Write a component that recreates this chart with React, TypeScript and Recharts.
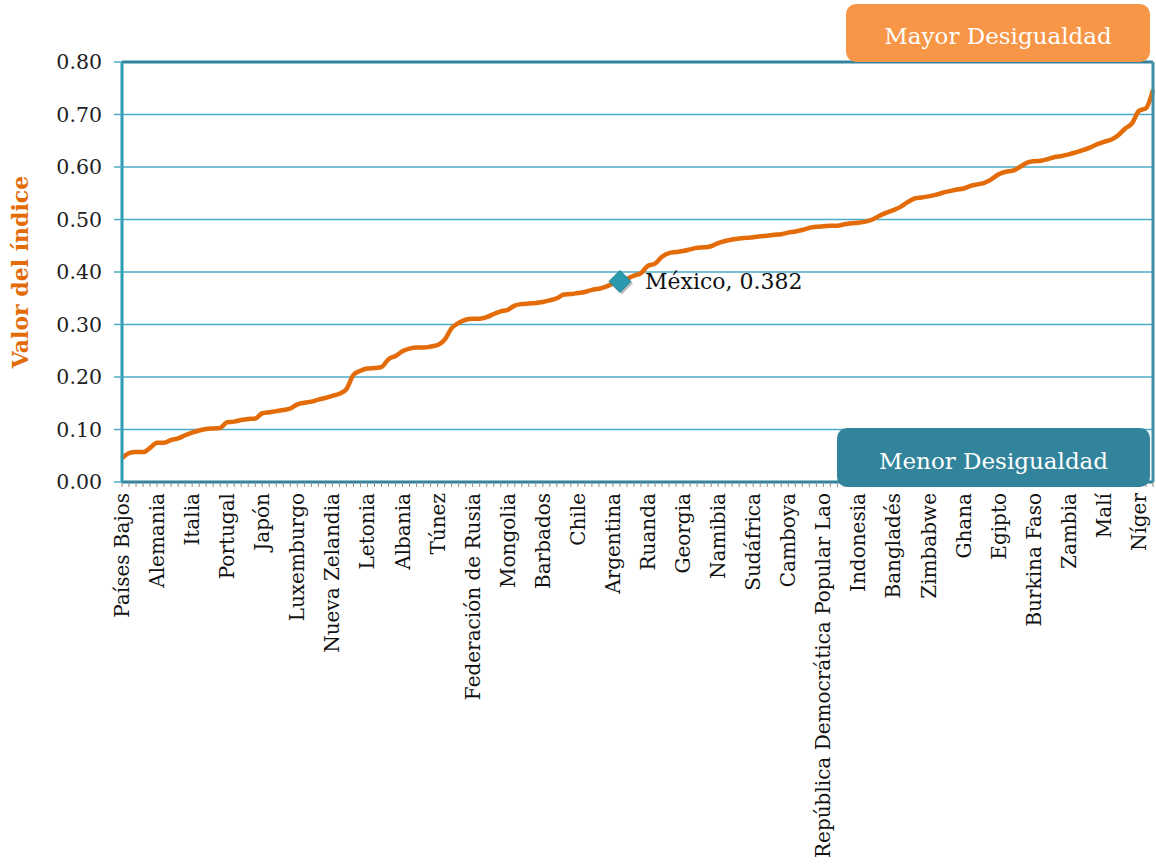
import {
  CartesianGrid,
  Line,
  LineChart,
  ReferenceLine,
  XAxis,
  YAxis,
} from "recharts";

const countries = [
  "Países Bajos", "Suecia", "Suiza", "Dinamarca", "Noruega",
  "Alemania", "Finlandia", "Eslovenia", "Francia", "Islandia",
  "Italia", "Bélgica", "Singapur", "Austria", "España",
  "Portugal", "Australia", "Canadá", "Irlanda", "República Checa",
  "Japón", "Chipre", "Grecia", "Polonia", "Israel",
  "Luxemburgo", "República de Corea", "Lituania", "Estonia", "Eslovaquia",
  "Nueva Zelandia", "Macedonia", "Croacia", "Reino Unido", "China",
  "Letonia", "Libia", "Bulgaria", "Malta", "Emiratos Árabes Unidos",
  "Albania", "Hungría", "Estados Unidos", "Bahréin", "Malasia",
  "Túnez", "Kuwait", "Viet Nam", "Moldova", "Kazajstán",
  "Federación de Rusia", "Trinidad y Tabago", "Bahamas", "Rumania", "Belarús",
  "Mongolia", "Ucrania", "Armenia", "Omán", "Costa Rica",
  "Barbados", "Bosnia y Herzegovina", "Cuba", "Kirguistán", "Tailandia",
  "Chile", "Uruguay", "Turquía", "Azerbaiyán", "Mauricio",
  "Argentina", "México", "Perú", "Tayikistán", "Serbia",
  "Ruanda", "Filipinas", "Ecuador", "Brasil", "Sri Lanka",
  "Georgia", "Jamaica", "Fiji", "El Salvador", "Belice",
  "Namibia", "Colombia", "Paraguay", "Venezuela", "Panamá",
  "Sudáfrica", "Bolivia", "Líbano", "República Dominicana", "Nicaragua",
  "Camboya", "Argelia", "Botsuana", "Honduras", "Jordania",
  "República Democrática Popular Lao", "Guatemala", "Marruecos", "Siria", "Swazilandia",
  "Indonesia", "Qatar", "Irán", "Nepal", "Bhután",
  "Bangladés", "Gabón", "Lesoto", "Uganda", "Tanzania",
  "Zimbabwe", "Mozambique", "Senegal", "Malawi", "Pakistán",
  "Ghana", "Kenia", "Haití", "Guyana", "Togo",
  "Egipto", "Camerún", "Benín", "Iraq", "Gambia",
  "Burkina Faso", "Mauritania", "Côte d'Ivoire", "India", "Sudán",
  "Zambia", "Papúa Nueva Guinea", "Congo", "Sierra Leona", "República Centroafricana",
  "Malí", "Liberia", "Chad", "República Democrática del Congo", "Arabia Saudita",
  "Níger", "Afganistán", "Yemen",
];

const indexValues = [
  0.045, 0.055, 0.057, 0.057, 0.065,
  0.075, 0.075, 0.08, 0.083, 0.089,
  0.094, 0.098, 0.101, 0.102, 0.103,
  0.114, 0.115, 0.118, 0.12, 0.121,
  0.131, 0.133, 0.135, 0.137, 0.14,
  0.148, 0.151, 0.153, 0.157, 0.16,
  0.164, 0.168, 0.177, 0.204, 0.212,
  0.216, 0.217, 0.219, 0.234, 0.24,
  0.249, 0.254, 0.256, 0.256, 0.258,
  0.261, 0.271, 0.293, 0.303, 0.309,
  0.311, 0.311, 0.314, 0.32, 0.325,
  0.328, 0.336, 0.339, 0.34, 0.341,
  0.343, 0.346, 0.35, 0.357, 0.358,
  0.36, 0.362, 0.366, 0.368, 0.372,
  0.378, 0.382, 0.387, 0.393, 0.398,
  0.412, 0.416, 0.429, 0.436, 0.438,
  0.44, 0.443, 0.446, 0.447, 0.449,
  0.455, 0.459, 0.462, 0.464, 0.465,
  0.466, 0.468, 0.469, 0.471, 0.472,
  0.475, 0.477, 0.48, 0.484, 0.486,
  0.487, 0.488, 0.488, 0.491, 0.493,
  0.494, 0.496, 0.5, 0.507, 0.513,
  0.518, 0.524, 0.533, 0.54, 0.542,
  0.544, 0.547, 0.551, 0.554, 0.557,
  0.559, 0.564, 0.567, 0.57, 0.577,
  0.586, 0.591, 0.593, 0.6, 0.608,
  0.611, 0.612, 0.615, 0.619, 0.621,
  0.624, 0.628, 0.632, 0.637, 0.643,
  0.648, 0.652, 0.66, 0.673, 0.683,
  0.707, 0.712, 0.747,
];

const yTicks = [0, 0.1, 0.2, 0.3, 0.4, 0.5, 0.6, 0.7, 0.8];
const labelEvery = 5;
const highlighted = "México";

const data = countries.map((country, i) => ({ country, value: indexValues[i] }));

const FONT = "'DejaVu Serif', serif";
const ORANGE = "#E36C09";
const TEAL = "#31849B";
const GRID = "#4BACC6";

function CountryTick(props: any) {
  const { x, y, payload } = props;
  const i = payload?.index ?? props.index;
  if (i % labelEvery !== 0) return <g />;
  return (
    <text
      x={x}
      y={y}
      dy="0.35em"
      transform={`rotate(-90, ${x}, ${y})`}
      textAnchor="end"
      fontFamily={FONT}
      fontSize={20}
      fill="#111"
    >
      {payload.value}
    </text>
  );
}

function HighlightDot(props: any) {
  const { cx, cy, payload, index } = props;
  if (payload?.country !== highlighted) return <g key={`d${index}`} />;
  const r = 11;
  const pts = (dx: number, dy: number) =>
    `${cx + dx},${cy + dy - r} ${cx + dx + r},${cy + dy} ${cx + dx},${cy + dy + r} ${cx + dx - r},${cy + dy}`;
  return (
    <g key={`d${index}`}>
      <polygon points={pts(2, 2)} fill="rgba(0,0,0,0.25)" />
      <polygon points={pts(0, 0)} fill="#2A9BAF" stroke="#257F92" strokeWidth={1} />
      <text x={cx + 25} y={cy + 8} fontFamily={FONT} fontSize={22} fill="#111">
        {`${payload.country}, ${payload.value.toFixed(3)}`}
      </text>
    </g>
  );
}

const boxStyle = {
  position: "absolute" as const,
  display: "flex",
  alignItems: "center",
  justifyContent: "center",
  color: "#fff",
  fontFamily: FONT,
  fontSize: 23,
  borderRadius: 10,
  boxSizing: "border-box" as const,
  paddingTop: 6,
};

export default function App() {
  return (
    <div style={{ position: "absolute", left: 0, top: 0, width: 1156, height: 865, background: "#fff" }}>
      <LineChart
        width={1156}
        height={865}
        data={data}
        margin={{ top: 62, right: 0, bottom: 0, left: 0 }}
      >
        <CartesianGrid vertical={false} stroke={GRID} strokeWidth={1.5} />
        <XAxis
          dataKey="country"
          interval={0}
          height={383}
          tick={<CountryTick />}
          tickSize={5}
          tickMargin={6}
          tickLine={{ stroke: "#8a8a8a" }}
          axisLine={{ stroke: TEAL, strokeWidth: 3 }}
        />
        <YAxis
          width={122}
          domain={[0, 0.8]}
          ticks={yTicks}
          tickFormatter={(v: number) => v.toFixed(2)}
          tick={{ fill: "#222", fontSize: 20.5, fontFamily: FONT }}
          tickSize={8}
          tickMargin={12}
          tickLine={{ stroke: GRID, strokeWidth: 1.5 }}
          axisLine={{ stroke: "#2B9CB0", strokeWidth: 3 }}
          label={{
            value: "Valor del índice",
            angle: -90,
            position: "insideLeft",
            offset: 20,
            style: { fill: ORANGE, fontWeight: "bold", fontSize: 22, fontFamily: FONT, textAnchor: "middle" },
          }}
        />
        <YAxis
          yAxisId="right"
          orientation="right"
          width={3}
          domain={[0, 0.8]}
          tick={false}
          tickLine={false}
          axisLine={{ stroke: "#3F8FA6", strokeWidth: 3 }}
        />
        <ReferenceLine y={0.8} stroke={TEAL} strokeWidth={3} />
        <Line
          type="monotone"
          dataKey="value"
          stroke={ORANGE}
          strokeWidth={4.5}
          dot={HighlightDot}
          activeDot={false}
          isAnimationActive={false}
        />
      </LineChart>
      <div style={{ ...boxStyle, left: 846, top: 4, width: 304, height: 58, background: "#F79646" }}>
        Mayor Desigualdad
      </div>
      <div style={{ ...boxStyle, left: 837, top: 428, width: 313, height: 59, background: TEAL }}>
        Menor Desigualdad
      </div>
    </div>
  );
}
